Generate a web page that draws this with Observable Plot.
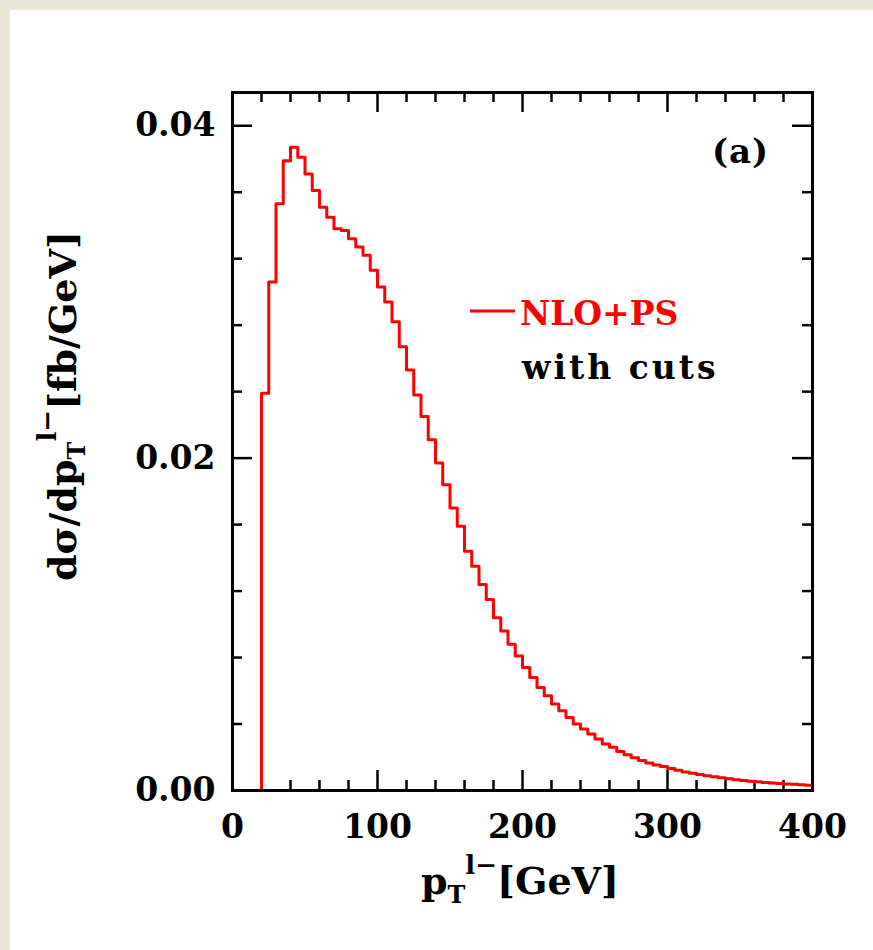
<!DOCTYPE html>
<html>
<head>
<meta charset="utf-8">
<script src="https://cdn.jsdelivr.net/npm/d3@7"></script>
<script src="https://cdn.jsdelivr.net/npm/@observablehq/plot@0.6"></script>
<style>
  html, body { margin: 0; padding: 0; background: #ece6d6; width: 873px; height: 950px; overflow: hidden; }
  #panel { position: absolute; left: 10px; top: 10px; width: 863px; height: 940px; background: #ffffff; }
  svg text { font-family: "DejaVu Serif", serif; font-weight: bold; }
</style>
</head>
<body>
<div id="panel"></div>
<script>
// Bin lower edges (GeV), bin width 5 GeV
const binEdges = [20,25,30,35,40,45,50,55,60,65,70,75,80,85,90,95,100,105,110,115,120,125,130,135,140,145,150,155,160,165,170,175,180,185,190,195,200,205,210,215,220,225,230,235,240,245,250,255,260,265,270,275,280,285,290,295,300,305,310,315,320,325,330,335,340,345,350,355,360,365,370,375,380,385,390,395];
const binUpperEnd = 400;
// dsigma/dpT [fb/GeV], NLO+PS with cuts
const nloPS = [0.0239,0.0306,0.0353,0.0379,0.0387,0.0381,0.0371,0.0361,0.0351,0.0345,0.0338,0.0337,0.0332,0.0327,0.0322,0.0313,0.0303,0.0294,0.0282,0.0267,0.0253,0.0238,0.0225,0.0211,0.0197,0.0184,0.0170,0.0159,0.0144,0.0135,0.0124,0.0115,0.0104,0.0096,0.0088,0.0081,0.0074,0.0068,0.0062,0.0057,0.0052,0.0048,0.0044,0.0040,0.0037,0.0034,0.0031,0.0028,0.0026,0.00235,0.00215,0.00197,0.0018,0.00166,0.00154,0.00144,0.00132,0.00122,0.00112,0.00104,0.00096,0.00089,0.00082,0.00076,0.0007,0.00065,0.0006,0.00056,0.00052,0.00048,0.00045,0.00042,0.00039,0.00037,0.00034,0.00032];

const xMajor = [0,100,200,300,400];
const xMinor = [20,40,60,80,120,140,160,180,220,240,260,280,320,340,360,380];
const yMajor = [0,0.02,0.04];
const yMinor = [0.004,0.008,0.012,0.016,0.024,0.028,0.032,0.036];

// step points
const pts = [{x: binEdges[0], y: 0}];
binEdges.forEach((e, i) => pts.push({x: e, y: nloPS[i]}));
pts.push({x: binUpperEnd, y: nloPS[nloPS.length - 1]});

const W = 863, H = 940;
const mL = 222, mR = 61, mT = 82, mB = 160;
const innerW = W - mL - mR, innerH = H - mT - mB;
const FONT = "DejaVu Serif";
const tickW = 2.5;

const chart = Plot.plot({
  width: W, height: H,
  marginLeft: mL, marginRight: mR, marginTop: mT, marginBottom: mB,
  style: {background: "white", overflow: "visible"},
  x: {domain: [0, 400], axis: null},
  y: {domain: [0, 0.042], axis: null},
  marks: [
    // ticks (inward on all four sides)
    Plot.ruleX(xMajor, {insetTop: innerH - 20, strokeWidth: tickW, stroke: "black"}),
    Plot.ruleX(xMinor, {insetTop: innerH - 10, strokeWidth: tickW, stroke: "black"}),
    Plot.ruleX(xMajor, {insetBottom: innerH - 20, strokeWidth: tickW, stroke: "black"}),
    Plot.ruleX(xMinor, {insetBottom: innerH - 10, strokeWidth: tickW, stroke: "black"}),
    Plot.ruleY(yMajor, {insetRight: innerW - 20, strokeWidth: tickW, stroke: "black"}),
    Plot.ruleY(yMinor, {insetRight: innerW - 10, strokeWidth: tickW, stroke: "black"}),
    Plot.ruleY(yMajor, {insetLeft: innerW - 20, strokeWidth: tickW, stroke: "black"}),
    Plot.ruleY(yMinor, {insetLeft: innerW - 10, strokeWidth: tickW, stroke: "black"}),
    // tick labels
    Plot.axisX(xMajor, {anchor: "bottom", tickSize: 0, tickPadding: 24, fontSize: 33, fontFamily: FONT, fontWeight: "bold", fill: "black", label: null, tickFormat: d => String(d)}),
    Plot.axisY(yMajor, {anchor: "left", tickSize: 0, tickPadding: 17, fontSize: 33, fontFamily: FONT, fontWeight: "bold", fill: "black", label: null, tickFormat: d3.format(".2f")}),
    // histogram
    Plot.line(pts, {x: "x", y: "y", curve: "step-after", stroke: "#ff0000", strokeWidth: 3}),
    Plot.frame({stroke: "black", strokeWidth: 3})
  ]
});

document.getElementById("panel").appendChild(chart);

const svg = d3.select(chart);

// x-axis title
const xt = svg.append("text")
  .attr("x", 510).attr("y", 884)
  .attr("text-anchor", "middle")
  .attr("font-size", 38).attr("fill", "black");
xt.append("tspan").text("p");
xt.append("tspan").attr("dy", 9).attr("font-size", 24).text("T");
xt.append("tspan").attr("dy", -29).attr("font-size", 26).text("l−");
xt.append("tspan").attr("dy", 20).text("[GeV]");

// y-axis title
const yt = svg.append("text")
  .attr("transform", "translate(66,396) rotate(-90)")
  .attr("text-anchor", "middle")
  .attr("font-size", 38).attr("fill", "black");
yt.append("tspan").text("dσ/dp");
yt.append("tspan").attr("dy", 9).attr("font-size", 24).text("T");
yt.append("tspan").attr("dy", -29).attr("font-size", 26).text("l−");
yt.append("tspan").attr("dy", 20).text("[fb/GeV]");

// legend
svg.append("line")
  .attr("x1", 460).attr("x2", 505).attr("y1", 301).attr("y2", 301)
  .attr("stroke", "#ff0000").attr("stroke-width", 3);
svg.append("text").attr("x", 510).attr("y", 315)
  .attr("text-anchor", "start")
  .attr("font-size", 33).attr("fill", "#ff0000").text("NLO+PS");
svg.append("text").attr("x", 512).attr("y", 369)
  .attr("text-anchor", "start").attr("letter-spacing", 3)
  .attr("font-size", 33).attr("fill", "black").text("with cuts");
svg.append("text").attr("x", 702).attr("y", 153)
  .attr("text-anchor", "start").attr("letter-spacing", 1)
  .attr("font-size", 34).attr("fill", "black").text("(a)");
</script>
</body>
</html>
